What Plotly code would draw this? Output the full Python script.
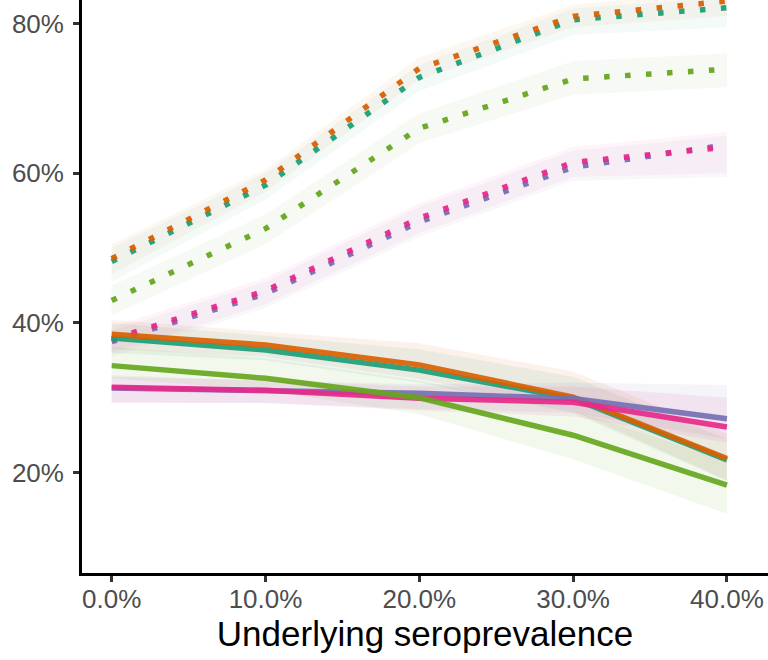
import plotly.graph_objects as go

# ---------------- data ----------------
seroprevalence = [0, 10, 20, 30, 40]          # underlying seroprevalence, %

x_tick_vals = [0, 10, 20, 30, 40]
x_tick_text = ["0.0%", "10.0%", "20.0%", "30.0%", "40.0%"]
y_tick_vals = [20, 40, 60, 80]
y_tick_text = ["20%", "40%", "60%", "80%"]

series = ["A", "B", "C", "D", "E"]
series_colors = ["#1B9E77", "#D95F02", "#7570B3", "#E7298A", "#66A61E"]

# solid lines (central estimates)
solid_A = [38.0, 36.4, 33.7, 29.9, 21.7]
solid_B = [38.5, 37.05, 34.4, 30.1, 21.9]
solid_C = [31.3, 31.0, 30.6, 29.9, 27.2]
solid_D = [31.4, 31.0, 29.95, 29.4, 26.1]
solid_E = [34.3, 32.6, 30.0, 25.0, 18.35]

# solid-line spread (faint replicate lines): low / high envelope
solid_lo_A = [36.0, 35.0, 32.0, 28.0, 18.9]
solid_hi_A = [40.0, 38.3, 36.5, 32.8, 24.5]
solid_lo_B = [36.5, 35.5, 32.5, 28.3, 19.0]
solid_hi_B = [40.4, 38.8, 37.3, 33.5, 25.2]
solid_lo_C = [29.4, 29.3, 28.5, 28.0, 24.5]
solid_hi_C = [33.0, 32.3, 31.8, 32.0, 31.7]
solid_lo_D = [29.3, 29.3, 28.3, 27.5, 24.0]
solid_hi_D = [32.8, 32.3, 31.5, 31.5, 30.0]
solid_lo_E = [32.6, 31.0, 27.8, 21.8, 14.5]
solid_hi_E = [36.8, 35.3, 32.3, 28.3, 21.6]

# dotted lines (central estimates)
dotted_A = [48.2, 58.4, 72.8, 80.5, 82.1]
dotted_B = [48.6, 59.1, 74.0, 80.95, 83.0]
dotted_C = [37.5, 43.9, 53.5, 60.8, 63.8]
dotted_D = [37.8, 44.3, 54.0, 61.45, 63.5]
dotted_E = [43.0, 52.6, 66.0, 72.6, 73.9]

# dotted-line spread (faint replicate lines): low / high envelope
dotted_lo_A = [45.5, 56.5, 71.0, 78.5, 79.5]
dotted_hi_A = [50.0, 60.0, 74.5, 82.0, 83.5]
dotted_lo_B = [46.5, 57.5, 72.5, 79.5, 81.0]
dotted_hi_B = [50.5, 60.5, 75.5, 82.5, 84.5]
dotted_lo_C = [35.5, 42.0, 51.5, 59.0, 59.5]
dotted_hi_C = [39.0, 45.5, 55.5, 63.0, 65.0]
dotted_lo_D = [36.0, 42.5, 52.0, 59.5, 60.0]
dotted_hi_D = [39.5, 46.0, 56.0, 63.5, 65.5]
dotted_lo_E = [41.0, 50.5, 64.0, 70.5, 71.5]
dotted_hi_E = [45.0, 54.5, 68.0, 75.0, 76.0]

solid = [solid_A, solid_B, solid_C, solid_D, solid_E]
solid_lo = [solid_lo_A, solid_lo_B, solid_lo_C, solid_lo_D, solid_lo_E]
solid_hi = [solid_hi_A, solid_hi_B, solid_hi_C, solid_hi_D, solid_hi_E]
dotted = [dotted_A, dotted_B, dotted_C, dotted_D, dotted_E]
dotted_lo = [dotted_lo_A, dotted_lo_B, dotted_lo_C, dotted_lo_D, dotted_lo_E]
dotted_hi = [dotted_hi_A, dotted_hi_B, dotted_hi_C, dotted_hi_D, dotted_hi_E]


def rgba(hex_color, a):
    h = hex_color.lstrip("#")
    r, g, b = int(h[0:2], 16), int(h[2:4], 16), int(h[4:6], 16)
    return f"rgba({r},{g},{b},{a})"


fig = go.Figure()

# faint spread bands
for lo_set, hi_set, alpha in [(solid_lo, solid_hi, 0.08), (dotted_lo, dotted_hi, 0.05)]:
    for name, col, lo, hi in zip(series, series_colors, lo_set, hi_set):
        fig.add_trace(go.Scatter(x=seroprevalence, y=lo, mode="lines",
                                 line=dict(width=0, color=rgba(col, 0)),
                                 showlegend=False, hoverinfo="skip"))
        fig.add_trace(go.Scatter(x=seroprevalence, y=hi, mode="lines",
                                 line=dict(width=0, color=rgba(col, 0)),
                                 fill="tonexty", fillcolor=rgba(col, alpha),
                                 showlegend=False, hoverinfo="skip"))

# dotted central lines
for name, col, vals in zip(series, series_colors, dotted):
    fig.add_trace(go.Scatter(x=seroprevalence, y=vals, mode="lines", name=name,
                             line=dict(color=rgba(col, 0.95), width=5.5, dash="5.5px,15.5px"),
                             showlegend=False))

# solid central lines
for name, col, vals in zip(series, series_colors, solid):
    fig.add_trace(go.Scatter(x=seroprevalence, y=vals, mode="lines", name=name,
                             line=dict(color=rgba(col, 0.92), width=5.5),
                             showlegend=False))

font_family = "Liberation Sans, Arial, Helvetica, sans-serif"

fig.update_layout(
    width=768, height=660,
    margin=dict(l=82, r=0, t=0, b=87, pad=0),
    paper_bgcolor="white", plot_bgcolor="white",
    font=dict(family=font_family),
    xaxis=dict(
        range=[-1.93, 42.67],
        tickmode="array", tickvals=x_tick_vals, ticktext=x_tick_text,
        tickfont=dict(size=26, color="#4D4D4D"),
        ticks="outside", ticklen=6, tickwidth=2.5, tickcolor="#333333",
        ticklabelstandoff=-5,
        showline=True, linecolor="black", linewidth=2.7,
        showgrid=False, zeroline=False,
        title=dict(text="Underlying seroprevalence",
                   font=dict(size=35, color="black"), standoff=4),
    ),
    yaxis=dict(
        range=[6.6, 83.14],
        tickmode="array", tickvals=y_tick_vals, ticktext=y_tick_text,
        tickfont=dict(size=26, color="#4D4D4D"),
        ticks="outside", ticklen=6, tickwidth=2.5, tickcolor="#333333",
        ticklabelstandoff=4,
        showline=True, linecolor="black", linewidth=2.7,
        showgrid=False, zeroline=False,
    ),
)

fig.write_html("out.html",
               config={"displayModeBar": False},
               post_script="document.body.style.margin='0px';document.body.style.overflow='hidden';")
